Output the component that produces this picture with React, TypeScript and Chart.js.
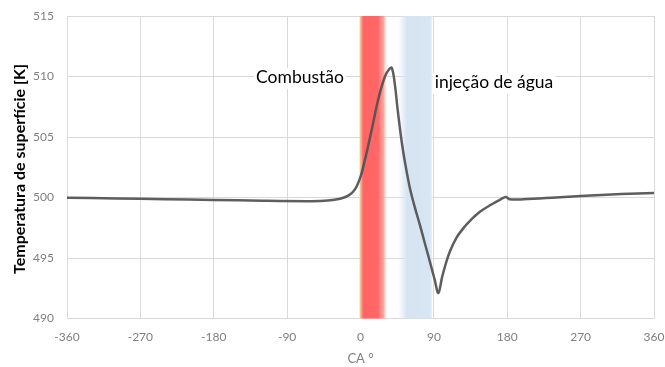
import React, { useEffect, useRef } from "react";
import { Chart, registerables } from "chart.js";

Chart.register(...registerables);

// Crank angle (degrees) and surface temperature (K)
const crankAngle = [
  -360, -300, -240, -180, -120, -60, -40, -25, -15, -7, 0, 5, 10, 15, 20, 25, 30, 34, 38.3,
  42.3, 45, 48.4, 51, 54.6, 60.7, 67, 73, 79, 85.2, 91, 95.5, 100, 104, 110, 118, 126, 134,
  146, 160, 172, 178.5, 183, 200, 240, 270, 320, 360,
];
const surfaceTemp = [
  499.98, 499.92, 499.86, 499.8, 499.73, 499.7, 499.75, 499.9, 500.15, 500.65, 501.7, 503.0,
  504.45, 506.0, 507.6, 508.95, 510.0, 510.5, 510.72, 509.27, 507.6, 505.7, 504.4, 502.9,
  500.74, 499.1, 497.7, 496.2, 494.67, 493.2, 492.1, 493.4, 494.4, 495.6, 496.7, 497.45,
  498.05, 498.8, 499.4, 499.85, 500.05, 499.85, 499.85, 500.0, 500.12, 500.28, 500.38,
];

const xTicks = [-360, -270, -180, -90, 0, 90, 180, 270, 360];
const yTicks = [490, 495, 500, 505, 510, 515];

// Shaded phases, in crank-angle degrees
const ignitionBand = [-2, 2];
const combustionBand = [1.5, 28.5, 33];
const injectionBand = [46, 57, 85, 88];

const yTitle = "Temperatura de superfície [K]";
const xTitle = "CA °";
const combustionLabel = "Combustão";
const injectionLabel = "injeção de água";

const FONT = "Lato, 'Open Sans', sans-serif";

const phasePlugin = {
  id: "phases",
  beforeDatasetsDraw(chart: any) {
    const { ctx, chartArea, scales } = chart;
    const x = scales.x;
    const top = chartArea.top;
    const h = chartArea.bottom - chartArea.top;
    ctx.save();

    // thin orange edge at ignition
    {
      const a = x.getPixelForValue(ignitionBand[0]);
      const b = x.getPixelForValue(ignitionBand[1]);
      const g = ctx.createLinearGradient(a, 0, b, 0);
      g.addColorStop(0, "rgba(240,200,160,0)");
      g.addColorStop(0.5, "rgba(238,190,140,0.9)");
      g.addColorStop(1, "rgba(240,170,130,0.9)");
      ctx.fillStyle = g;
      ctx.fillRect(a, top, b - a, h);
    }
    // combustion (red)
    {
      const a = x.getPixelForValue(combustionBand[0]);
      const b = x.getPixelForValue(combustionBand[1]);
      const c = x.getPixelForValue(combustionBand[2]);
      const g = ctx.createLinearGradient(a, 0, c, 0);
      const solidEnd = (b - a) / (c - a);
      g.addColorStop(0, "rgba(255,110,100,0.85)");
      g.addColorStop(0.08, "rgba(255,100,100,1)");
      g.addColorStop(solidEnd * 0.75, "rgba(255,104,104,1)");
      g.addColorStop(solidEnd, "rgba(255,155,145,0.85)");
      g.addColorStop(1, "rgba(255,235,220,0)");
      ctx.fillStyle = g;
      ctx.fillRect(a, top, c - a, h);
    }
    // water injection (blue)
    {
      const a = x.getPixelForValue(injectionBand[0]);
      const b = x.getPixelForValue(injectionBand[1]);
      const c = x.getPixelForValue(injectionBand[2]);
      const d = x.getPixelForValue(injectionBand[3]);
      const g = ctx.createLinearGradient(a, 0, d, 0);
      g.addColorStop(0, "rgba(214,228,242,0)");
      g.addColorStop((b - a) / (d - a), "rgba(214,228,242,1)");
      g.addColorStop((c - a) / (d - a), "rgba(216,230,244,1)");
      g.addColorStop(1, "rgba(225,236,248,0.7)");
      ctx.fillStyle = g;
      ctx.fillRect(a, top, d - a, h);
    }
    ctx.restore();
  },
  afterDraw(chart: any) {
    const { ctx, scales } = chart;
    ctx.save();
    // axis titles
    ctx.fillStyle = "#000";
    ctx.font = `bold 16px ${FONT}`;
    ctx.textAlign = "center";
    ctx.textBaseline = "middle";
    ctx.translate(20, 169);
    ctx.rotate(-Math.PI / 2);
    ctx.fillText(yTitle, 0, 0);
    ctx.restore();

    ctx.save();
    ctx.fillStyle = "#7f7f7f";
    ctx.font = `13px ${FONT}`;
    ctx.textAlign = "center";
    ctx.textBaseline = "middle";
    ctx.fillText(xTitle, scales.x.getPixelForValue(0), 359);

    // phase labels with white backing
    ctx.font = `17.5px ${FONT}`;
    ctx.textBaseline = "alphabetic";
    const labels: [string, number, number][] = [
      [combustionLabel, 300, 83],
      [injectionLabel, 494, 88],
    ];
    for (const [t, cx, by] of labels) {
      const w = ctx.measureText(t).width;
      ctx.fillStyle = "#fff";
      ctx.fillRect(cx - w / 2 - 2, by - 15, w + 4, 21);
      ctx.fillStyle = "#000";
      ctx.fillText(t, cx, by);
    }
    ctx.restore();
  },
};

export default function App() {
  const ref = useRef<HTMLCanvasElement | null>(null);

  useEffect(() => {
    if (!ref.current) return;
    const points = crankAngle.map((x, i) => ({ x, y: surfaceTemp[i] }));
    const chart = new Chart(ref.current, {
      type: "line",
      data: {
        datasets: [
          {
            data: points,
            borderColor: "rgba(80,80,80,0.92)",
            borderWidth: 2.5,
            pointRadius: 0,
            tension: 0.35,
            fill: false,
          },
        ],
      },
      options: {
        animation: false,
        responsive: false,
        maintainAspectRatio: false,
        layout: { padding: { top: 16, right: 11, left: 0, bottom: 0 } },
        plugins: { legend: { display: false }, tooltip: { enabled: false } },
        scales: {
          x: {
            type: "linear",
            min: -360,
            max: 360,
            afterBuildTicks: (s: any) => {
              s.ticks = xTicks.map((v) => ({ value: v }));
            },
            afterFit: (s: any) => {
              s.height = 48.5;
              s.paddingLeft = 0;
              s.paddingRight = 0;
            },
            grid: { color: "#d9d9d9", lineWidth: 1, drawTicks: false },
            border: { color: "#d9d9d9" },
            ticks: {
              color: "#7f7f7f",
              font: { family: FONT, size: 12 },
              padding: 11,
              maxRotation: 0,
              autoSkip: false,
            },
          },
          y: {
            min: 490,
            max: 515,
            afterBuildTicks: (s: any) => {
              s.ticks = yTicks.map((v) => ({ value: v }));
            },
            afterFit: (s: any) => {
              s.width = 67;
              s.paddingTop = 0;
              s.paddingBottom = 0;
            },
            grid: { color: "#d9d9d9", lineWidth: 1, drawTicks: false },
            border: { color: "#d9d9d9" },
            ticks: {
              color: "#7f7f7f",
              font: { family: FONT, size: 12 },
              padding: 13,
            },
          },
        },
      },
      plugins: [phasePlugin],
    });
    return () => chart.destroy();
  }, []);

  return (
    <div style={{ position: "fixed", left: 0, top: 0, width: 665, height: 367, background: "#fff" }}>
      <canvas ref={ref} width={665} height={367} style={{ display: "block" }} />
    </div>
  );
}
